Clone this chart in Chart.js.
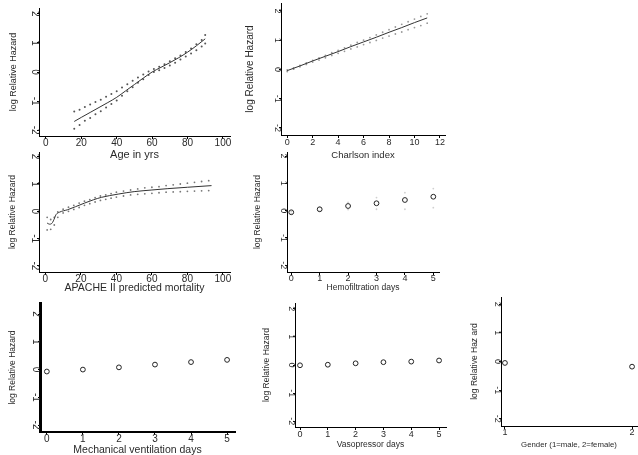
<!DOCTYPE html>
<html><head><meta charset="utf-8">
<script src="https://cdn.jsdelivr.net/npm/chart.js@4.4.1/dist/chart.umd.min.js"></script>
<style>html,body{margin:0;padding:0;background:#fff;width:638px;height:455px;overflow:hidden;position:relative}canvas{position:absolute}</style>
</head><body>
<script>
// ---------- data ----------
const hazardTicks = [-2, -1, 0, 1, 2];
const yTitleText = 'log Relative Hazard';
const yTitleTextGender = 'log Relative Haz ard';

// Age
const ageTitle = 'Age in yrs';
const ageTicks = [0, 20, 40, 60, 80, 100];
const ageLineX = [16, 20, 25, 30, 35, 40, 45, 50, 55, 60, 65, 70, 75, 80, 85, 90];
const ageLineY = [-1.7, -1.56, -1.39, -1.22, -1.05, -0.87, -0.65, -0.43, -0.21, 0.0, 0.16, 0.32, 0.49, 0.68, 0.9, 1.14];
const ageCIX = [16, 19, 22, 25, 28, 31, 34, 37, 40, 43, 46, 49, 52, 55, 58, 61, 64, 67, 70, 73, 76, 79, 82, 85, 88, 90];
const ageUpper = [-1.36, -1.3, -1.2, -1.12, -1.03, -0.95, -0.85, -0.76, -0.66, -0.53, -0.42, -0.3, -0.19, -0.09, 0.02, 0.1, 0.18, 0.27, 0.37, 0.47, 0.57, 0.69, 0.81, 0.95, 1.1, 1.27];
const ageLower = [-1.95, -1.82, -1.68, -1.58, -1.45, -1.35, -1.22, -1.1, -0.98, -0.82, -0.66, -0.52, -0.37, -0.25, -0.1, 0.0, 0.06, 0.14, 0.22, 0.32, 0.43, 0.53, 0.64, 0.75, 0.88, 0.98];

// Charlson
const charlsonTitle = 'Charlson index';
const charlsonTicks = [0, 2, 4, 6, 8, 10, 12];
const charlsonLineX = [0, 1, 2, 3, 4, 5, 6, 7, 8, 9, 10, 11];
const charlsonLineY = [-0.04, 0.12, 0.29, 0.45, 0.61, 0.78, 0.94, 1.1, 1.27, 1.43, 1.6, 1.76];
const charlsonCIX = [0, 0.5, 1, 1.5, 2, 2.5, 3, 3.5, 4, 4.5, 5, 5.5, 6, 6.5, 7, 7.5, 8, 8.5, 9, 9.5, 10, 10.5, 11];
const charlsonUpper = [-0.02, 0.05, 0.14, 0.22, 0.31, 0.39, 0.48, 0.57, 0.65, 0.74, 0.83, 0.92, 1.0, 1.09, 1.18, 1.27, 1.36, 1.45, 1.54, 1.63, 1.72, 1.81, 1.9];
const charlsonLower = [-0.07, 0.01, 0.09, 0.17, 0.25, 0.32, 0.4, 0.48, 0.55, 0.62, 0.7, 0.77, 0.85, 0.92, 0.99, 1.07, 1.14, 1.21, 1.28, 1.36, 1.43, 1.5, 1.58];

// APACHE II
const apacheTitle = 'APACHE II predicted mortality';
const apacheTicks = [0, 20, 40, 60, 80, 100];
const apacheLineX = [1, 2.3, 3.5, 4.5, 6, 8, 12.6, 17, 22, 27, 31.5, 41, 50, 60, 69, 80, 93.6];
const apacheLineY = [-0.43, -0.47, -0.45, -0.35, -0.12, -0.03, 0.06, 0.17, 0.3, 0.42, 0.51, 0.63, 0.72, 0.78, 0.83, 0.88, 0.94];
const apacheCIX = [1, 3, 5, 7, 10, 13, 16, 19, 22, 25, 28, 31, 34, 37, 40, 44, 48, 52, 56, 60, 64, 68, 72, 76, 80, 84, 88, 92];
const apacheUpper = [-0.22, -0.3, -0.22, -0.02, 0.08, 0.15, 0.22, 0.3, 0.37, 0.43, 0.5, 0.56, 0.6, 0.65, 0.7, 0.74, 0.78, 0.82, 0.86, 0.88, 0.9, 0.94, 0.97, 1.0, 1.03, 1.06, 1.09, 1.12];
const apacheLower = [-0.68, -0.66, -0.5, -0.22, -0.06, 0.0, 0.07, 0.14, 0.22, 0.28, 0.34, 0.4, 0.44, 0.48, 0.52, 0.56, 0.6, 0.62, 0.64, 0.66, 0.68, 0.7, 0.71, 0.72, 0.73, 0.74, 0.75, 0.76];

// Hemofiltration
const hemoTitle = 'Hemofiltration days';
const dayTicks = [0, 1, 2, 3, 4, 5];
const hemoDays = [0, 1, 2, 3, 4, 5];
const hemoHR = [-0.06, 0.05, 0.17, 0.27, 0.39, 0.51];
const hemoUpper = [-0.02, 0.12, 0.3, 0.48, 0.66, 0.81];
const hemoLower = [-0.1, -0.02, 0.04, 0.05, 0.05, 0.11];

// Mechanical ventilation
const ventTitle = 'Mechanical ventilation days';
const ventDays = [0, 1, 2, 3, 4, 5];
const ventHR = [-0.07, 0.0, 0.08, 0.18, 0.27, 0.35];

// Vasopressor
const vasoTitle = 'Vasopressor days';
const vasoDays = [0, 1, 2, 3, 4, 5];
const vasoHR = [-0.01, 0.01, 0.06, 0.1, 0.12, 0.16];

// Gender
const genderTitle = 'Gender (1=male, 2=female)';
const genderTicks = [1, 2];
const genderCodes = [1, 2];
const genderHR = [-0.05, -0.18];

// ---------- helpers ----------
const pts = (xs, ys) => xs.map((x, i) => ({x: x, y: ys[i]}));
const FAMILY = "'Liberation Sans', Arial, sans-serif";
const TXT = '#2a2a2a';

function lineDS(xs, ys) {
  return {data: pts(xs, ys), showLine: true, borderColor: '#333', borderWidth: 1, pointRadius: 0, cubicInterpolationMode: 'monotone', order: 1};
}
function dotDS(xs, ys, color, r) {
  return {data: pts(xs, ys), showLine: false, pointRadius: r || 0.9, pointStyle: 'circle', pointBackgroundColor: color, pointBorderWidth: 0, order: 2};
}
function markDS(xs, ys) {
  return {data: pts(xs, ys), showLine: false, pointRadius: 2.4, pointStyle: 'circle', pointBackgroundColor: 'rgba(255,255,255,0)', pointBorderColor: '#222', pointBorderWidth: 1, order: 0};
}

// ---------- layout (pixels) ----------
const panels = [
  {L: 39, R: 230, T: 8, B: 136, xMin: -3.9, xMax: 104, yMin: -2.2, yMax: 2.2, yTitleX: 13, xTitleY: 155,
   tickFont: 10, xTitleFont: 11, yTitleFont: 9, xTickPad: -2, axisW: [1, 1], xTicks: ageTicks, xTitle: ageTitle, yTitle: yTitleText,
   ds: () => [lineDS(ageLineX, ageLineY), dotDS(ageCIX, ageUpper, '#555', 1), dotDS(ageCIX, ageLower, '#555', 1)]},
  {L: 281, R: 445, T: 3, B: 135, xMin: -0.49, xMax: 12.4, yMin: -2.24, yMax: 2.27, yTitleX: 249.5, xTitleY: 155,
   tickFont: 9, xTitleFont: 9.5, yTitleFont: 10, xTickPad: -1, axisW: [1, 1], xTicks: charlsonTicks, xTitle: charlsonTitle, yTitle: yTitleText,
   ds: () => [lineDS(charlsonLineX, charlsonLineY), dotDS(charlsonCIX, charlsonUpper, '#999'), dotDS(charlsonCIX, charlsonLower, '#999')]},
  {L: 39, R: 230, T: 152, B: 272, xMin: -3.6, xMax: 104, yMin: -2.22, yMax: 2.17, yTitleX: 13, xTitleY: 288,
   tickFont: 10, xTitleFont: 10.5, yTitleFont: 8.5, xTickPad: -2, axisW: [1, 1], xTicks: apacheTicks, xTitle: apacheTitle, yTitle: yTitleText,
   ds: () => [lineDS(apacheLineX, apacheLineY), dotDS(apacheCIX, apacheUpper, '#777'), dotDS(apacheCIX, apacheLower, '#777')]},
  {L: 287, R: 439, T: 152, B: 272, xMin: -0.15, xMax: 5.2, yMin: -2.25, yMax: 2.15, yTitleX: 258, xTitleY: 288,
   tickFont: 9, xTitleFont: 8.5, yTitleFont: 8.5, xTickPad: -2, axisW: [1, 1], xTicks: dayTicks, xTitle: hemoTitle, yTitle: yTitleText,
   ds: () => [markDS(hemoDays, hemoHR), dotDS(hemoDays, hemoUpper, '#d0d0d0'), dotDS(hemoDays, hemoLower, '#d0d0d0')]},
  {L: 40, R: 235, T: 303, B: 432, xMin: -0.19, xMax: 5.22, yMin: -2.25, yMax: 2.4, yTitleX: 13, xTitleY: 450,
   tickFont: 10, xTitleFont: 10.5, yTitleFont: 8.5, xTickPad: -2, axisW: [3, 2], xTicks: dayTicks, xTitle: ventTitle, yTitle: yTitleText,
   ds: () => [markDS(ventDays, ventHR)]},
  {L: 295, R: 446, T: 303, B: 427, xMin: -0.18, xMax: 5.25, yMin: -2.2, yMax: 2.2, yTitleX: 267, xTitleY: 445,
   tickFont: 9, xTitleFont: 8.5, yTitleFont: 8.5, xTickPad: -1, axisW: [1, 1], xTicks: dayTicks, xTitle: vasoTitle, yTitle: yTitleText,
   ds: () => [markDS(vasoDays, vasoHR)]},
  {L: 501, R: 637, T: 297, B: 426, xMin: 0.969, xMax: 2.039, yMin: -2.25, yMax: 2.25, yTitleX: 475, xTitleY: 445,
   tickFont: 9, xTitleFont: 7.8, yTitleFont: 8.5, xTickPad: -2, axisW: [1, 1], xTicks: genderTicks, xTitle: genderTitle, yTitle: yTitleTextGender,
   ds: () => [markDS(genderCodes, genderHR)]}
];

function makePanel(p) {
  const padTop = 12, padRight = 14;
  const cl = Math.round(p.yTitleX - p.yTitleFont * 1.2 / 2);
  const ct = p.T - padTop;
  const cb = Math.round(p.xTitleY + p.xTitleFont * 1.2 / 2);
  const W = (p.R - cl) + padRight;
  const H = cb - ct;
  const yW = p.L - cl;
  const xH = cb - p.B;
  const c = document.createElement('canvas');
  c.width = W; c.height = H;
  c.style.left = cl + 'px'; c.style.top = ct + 'px';
  c.style.width = W + 'px'; c.style.height = H + 'px';
  document.body.appendChild(c);
  new Chart(c, {
    type: 'scatter',
    data: {datasets: p.ds()},
    options: {
      responsive: false, animation: false, devicePixelRatio: 1, events: [],
      layout: {padding: {top: padTop, right: padRight, left: 0, bottom: 0}},
      plugins: {legend: {display: false}, tooltip: {enabled: false}},
      scales: {
        x: {
          type: 'linear', position: 'bottom', min: p.xMin, max: p.xMax,
          afterBuildTicks: s => { s.ticks = p.xTicks.map(v => ({value: v})); },
          afterFit: s => { s.height = xH; },
          grid: {display: true, drawOnChartArea: false, drawTicks: true, tickLength: 3, color: '#000', lineWidth: 1},
          border: {display: true, color: '#000', width: p.axisW[1]},
          ticks: {font: {family: FAMILY, size: p.tickFont}, color: TXT, padding: p.xTickPad, maxRotation: 0, autoSkip: false, callback: v => String(v)},
          title: {display: true, text: p.xTitle, font: {family: FAMILY, size: p.xTitleFont}, color: TXT, padding: 0}
        },
        y: {
          type: 'linear', position: 'left', min: p.yMin, max: p.yMax,
          afterBuildTicks: s => { s.ticks = hazardTicks.map(v => ({value: v})); },
          afterFit: s => { s.width = yW; },
          grid: {display: true, drawOnChartArea: false, drawTicks: true, tickLength: 2, color: '#000', lineWidth: 1},
          border: {display: true, color: '#000', width: p.axisW[0]},
          ticks: {font: {family: FAMILY, size: p.tickFont}, color: TXT, minRotation: -90, maxRotation: -90, crossAlign: 'center', padding: -2.5, autoSkip: false, callback: v => String(v)},
          title: {display: true, text: p.yTitle, font: {family: FAMILY, size: p.yTitleFont}, color: TXT, padding: 0}
        }
      }
    }
  });
}
panels.forEach(makePanel);
</script>
</body></html>
